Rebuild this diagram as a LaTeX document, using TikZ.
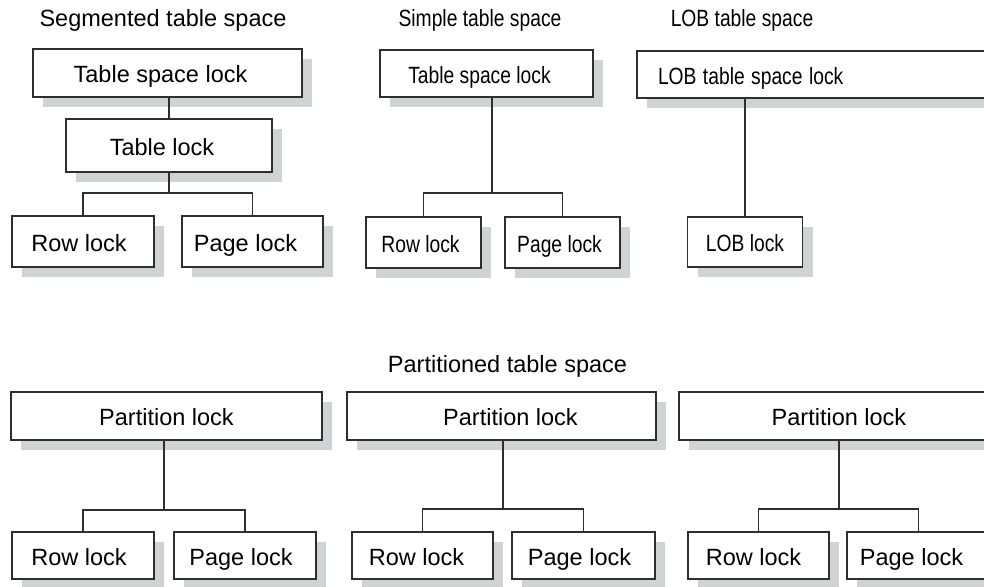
\documentclass[tikz,border=0pt]{standalone}
\usepackage{fontspec}
\usepackage{graphicx}
\setmainfont{Liberation Sans}
\newcommand{\narrowtext}[1]{\scalebox{0.82}[1]{#1}}
\usetikzlibrary{shadows}
\definecolor{shadowgray}{HTML}{D1D2D4}
\definecolor{linegray}{HTML}{2E2E2E}
\tikzset{
  lockbox/.style={draw=linegray, line width=1.5pt, fill=white, inner sep=0pt,
    text height=19pt, text depth=0pt,
    drop shadow={shadow xshift=10pt, shadow yshift=-10pt, fill=shadowgray, opacity=1}},
  tshift/.style={execute at begin node={\hspace*{#1}}, execute at end node={\hspace*{-#1}}},
  link/.style={draw=linegray, line width=1.5pt},
  title/.style={anchor=base, inner sep=0pt}
}
\begin{document}
\begin{tikzpicture}[x=1pt, y=-1pt, font=\fontsize{23.5pt}{28pt}\selectfont]
\useasboundingbox (0,0) rectangle (984,586);
\clip (0,0) rectangle (984,586);

% ---------- titles ----------
\node[title] (tseg) at (163,27) {Segmented table space};
\node[title] (tsim) at (480,27) {\narrowtext{Simple table space}};
\node[title] (tlob) at (742,27) {\narrowtext{LOB table space}};
\node[title] (tpart) at (507.5,372) {Partitioned table space};

% ---------- segmented ----------
\node[lockbox, tshift=-7pt, minimum width=269pt, minimum height=48pt] (segTS) at (167.5,73) {Table space lock};
\node[lockbox, tshift=-7pt, minimum width=206pt, minimum height=53pt] (segT) at (169,145.5) {Table lock};
\node[lockbox, tshift=-4pt, minimum width=142pt, minimum height=51pt] (segR) at (83,241.5) {Row lock};
\node[lockbox, tshift=-7pt, minimum width=141pt, minimum height=51pt] (segP) at (252.5,241.5) {Page lock};
\coordinate (segJ) at (169,193);

% ---------- simple ----------
\node[lockbox, tshift=-7pt, minimum width=213pt, minimum height=47pt] (simTS) at (486.5,73.5) {\narrowtext{Table space lock}};
\node[lockbox, tshift=-3pt, minimum width=115pt, minimum height=51pt] (simR) at (423.5,242.5) {\narrowtext{Row lock}};
\node[lockbox, tshift=-3pt, minimum width=115pt, minimum height=51pt] (simP) at (562.5,242.5) {\narrowtext{Page lock}};
\coordinate (simJ) at (492,193);

% ---------- LOB ----------
\node[lockbox, text width=311pt, inner xsep=21pt, align=left, minimum height=47pt] (lobTS) at (813.5,74.5) {\narrowtext{LOB table space lock}};
\node[lockbox, minimum width=115pt, minimum height=50pt] (lobL) at (745,242) {\narrowtext{LOB lock}};

% ---------- partitioned ----------
\node[lockbox, minimum width=311pt, minimum height=48pt] (P1) at (166.5,416) {Partition lock};
\node[lockbox, tshift=-4pt, minimum width=142pt, minimum height=47pt] (R1) at (83,555.5) {Row lock};
\node[lockbox, tshift=-4pt, minimum width=142pt, minimum height=47pt] (G1) at (245,555.5) {Page lock};
\coordinate (J1) at (164,510);

\node[lockbox, tshift=9pt, minimum width=309pt, minimum height=48pt] (P2) at (501.5,416) {Partition lock};
\node[lockbox, tshift=-6pt, minimum width=141pt, minimum height=47pt] (R2) at (422.5,555.5) {Row lock};
\node[lockbox, tshift=-4pt, minimum width=143pt, minimum height=47pt] (G2) at (583.5,555.5) {Page lock};
\coordinate (J2) at (503,509);

\node[lockbox, minimum width=320pt, minimum height=48pt] (P3) at (839,416) {Partition lock};
\node[lockbox, tshift=-5pt, minimum width=141pt, minimum height=47pt] (R3) at (758.5,555.5) {Row lock};
\node[lockbox, tshift=-7pt, minimum width=143pt, minimum height=47pt] (G3) at (918.5,555.5) {Page lock};
\coordinate (J3) at (839,509);

% ---------- connectors ----------
\draw[link] (segTS.south -| segT.north) -- (segT.north);
\draw[link] (segT.south) -- (segJ);
\draw[link] (segR.north) |- (segJ) -| (segP.north);

\draw[link] (simTS.south -| simJ) -- (simJ);
\draw[link] (simR.north) |- (simJ) -| (simP.north);

\draw[link] (lobTS.south -| lobL.north) -- (lobL.north);

\draw[link] (P1.south -| J1) -- (J1);
\draw[link] (R1.north) |- (J1) -| (G1.north);
\draw[link] (P2.south -| J2) -- (J2);
\draw[link] (R2.north) |- (J2) -| (G2.north);
\draw[link] (P3.south -| J3) -- (J3);
\draw[link] (R3.north) |- (J3) -| (G3.north);
\end{tikzpicture}
\end{document}
